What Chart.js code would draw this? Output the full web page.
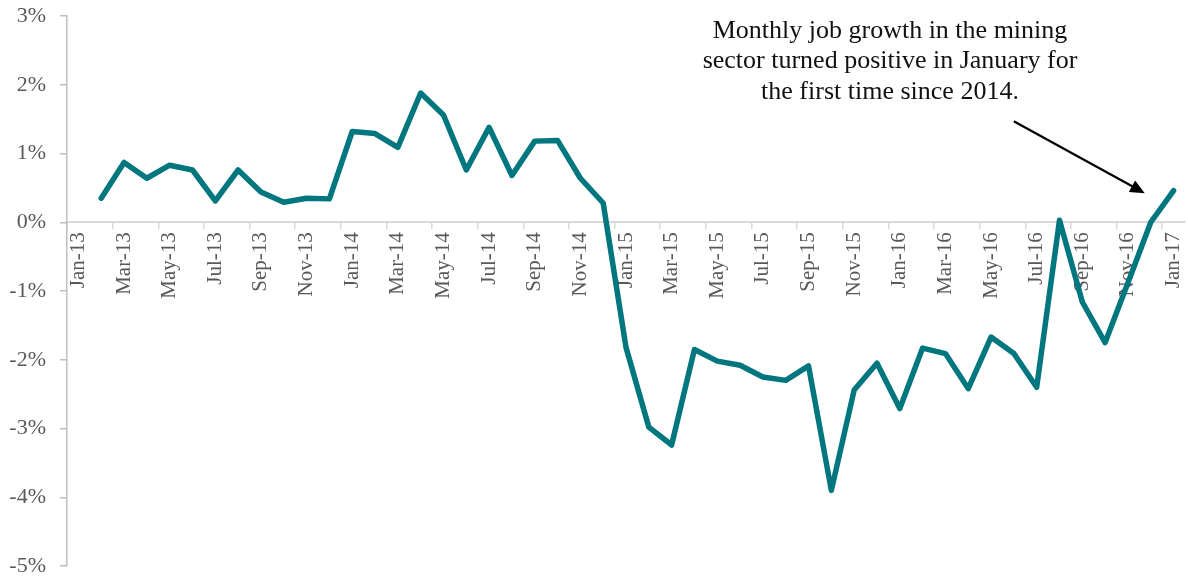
<!DOCTYPE html>
<html>
<head>
<meta charset="utf-8">
<script src="https://cdn.jsdelivr.net/npm/chart.js@4/dist/chart.umd.min.js"></script>
<style>
  html, body { margin: 0; padding: 0; background: #fff; }
  #wrap { width: 1188px; height: 578px; }
</style>
</head>
<body>
<div id="wrap"><canvas id="miningChart"></canvas></div>
<script>
// monthly labels Jan-13 .. Jan-17
var months = ["Jan","Feb","Mar","Apr","May","Jun","Jul","Aug","Sep","Oct","Nov","Dec"];
var labels = [];
for (var yr = 13; yr <= 17; yr++) {
  for (var m = 0; m < 12; m++) {
    if (yr === 17 && m > 0) break;
    labels.push(months[m] + "-" + yr);
  }
}

// monthly job growth in mining, percent (no value for Jan-13)
var growth2013 = [null, 0.35, 0.87, 0.64, 0.83, 0.76, 0.31, 0.76, 0.44, 0.29, 0.35, 0.34];
var growth2014 = [1.32, 1.29, 1.09, 1.88, 1.56, 0.76, 1.38, 0.68, 1.18, 1.19, 0.64, 0.28];
var growth2015 = [-1.82, -2.98, -3.24, -1.85, -2.02, -2.08, -2.25, -2.30, -2.09, -3.90, -2.44, -2.05];
var growth2016 = [-2.71, -1.83, -1.91, -2.42, -1.67, -1.91, -2.40, 0.03, -1.16, -1.75, -0.88, 0.0];
var growth2017 = [0.46];
var growth = growth2013.concat(growth2014, growth2015, growth2016, growth2017);

var yTicks = [3, 2, 1, 0, -1, -2, -3, -4, -5];

var noteLines = [
  "Monthly job growth in the mining",
  "sector turned positive in January for",
  "the first time since 2014."
];

var serif = "'Liberation Serif', 'DejaVu Serif', serif";

// callout text plus arrow pointing at Dec-16
var callout = {
  id: "callout",
  afterDraw: function (chart) {
    var ctx = chart.ctx;
    var xs = chart.scales.x, ys = chart.scales.y;
    ctx.save();
    ctx.fillStyle = "#111";
    ctx.font = "26px " + serif;
    ctx.textAlign = "center";
    ctx.textBaseline = "middle";
    for (var i = 0; i < noteLines.length; i++) {
      ctx.fillText(noteLines[i], 890, 31 + i * 30.5);
    }
    var px = xs.getPixelForValue(47), py = ys.getPixelForValue(0);
    var tx = px - 6, ty = py - 29;
    var sx = px - 137, sy = py - 101;
    var ang = Math.atan2(ty - sy, tx - sx);
    var head = 16;
    ctx.strokeStyle = "#000";
    ctx.lineWidth = 2.2;
    ctx.beginPath();
    ctx.moveTo(sx, sy);
    ctx.lineTo(tx - Math.cos(ang) * head * 0.8, ty - Math.sin(ang) * head * 0.8);
    ctx.stroke();
    ctx.fillStyle = "#000";
    ctx.beginPath();
    ctx.moveTo(tx, ty);
    ctx.lineTo(tx - head * Math.cos(ang - 0.42), ty - head * Math.sin(ang - 0.42));
    ctx.lineTo(tx - head * Math.cos(ang + 0.42), ty - head * Math.sin(ang + 0.42));
    ctx.closePath();
    ctx.fill();
    ctx.restore();
  }
};

new Chart("miningChart", {
  type: "line",
  data: {
    labels: labels,
    datasets: [{
      data: growth,
      borderColor: "#00767f",
      borderWidth: 5.5,
      borderJoinStyle: "round",
      borderCapStyle: "round",
      pointRadius: 0,
      tension: 0,
      fill: false
    }]
  },
  options: {
    responsive: true,
    maintainAspectRatio: false,
    animation: false,
    layout: { padding: { top: 16, bottom: 12, right: 3, left: 0 } },
    plugins: { legend: { display: false }, tooltip: { enabled: false } },
    scales: {
      x: {
        type: "category",
        position: { y: 0 },
        offset: true,
        afterFit: function (s) { s.paddingLeft = 0; s.paddingRight = 0; },
        grid: {
          offset: true,
          drawOnChartArea: false,
          drawTicks: true,
          tickLength: 6,
          lineWidth: 1.5,
          color: function (c) { return c.index % 2 === 0 ? "#d9d9d9" : "rgba(0,0,0,0)"; }
        },
        border: { color: "#d9d9d9", width: 2 },
        ticks: {
          autoSkip: false,
          minRotation: 90,
          maxRotation: 90,
          padding: 4,
          color: "#595959",
          font: { family: serif, size: 21 },
          callback: function (v, i) { return i % 2 === 0 ? labels[i] : ""; }
        }
      },
      y: {
        min: -5,
        max: 3,
        afterFit: function (s) { s.width = 67; s.paddingTop = 0; s.paddingBottom = 0; },
        afterBuildTicks: function (s) { s.ticks = yTicks.map(function (v) { return { value: v }; }); },
        grid: { drawOnChartArea: false, drawTicks: true, tickLength: 7, color: "#bfbfbf", lineWidth: 1.5 },
        border: { color: "#bfbfbf", width: 1.5 },
        ticks: {
          padding: 14,
          color: "#595959",
          font: { family: serif, size: 22 },
          callback: function (v) { return v + "%"; }
        }
      }
    }
  },
  plugins: [callout]
});
</script>
</body>
</html>
